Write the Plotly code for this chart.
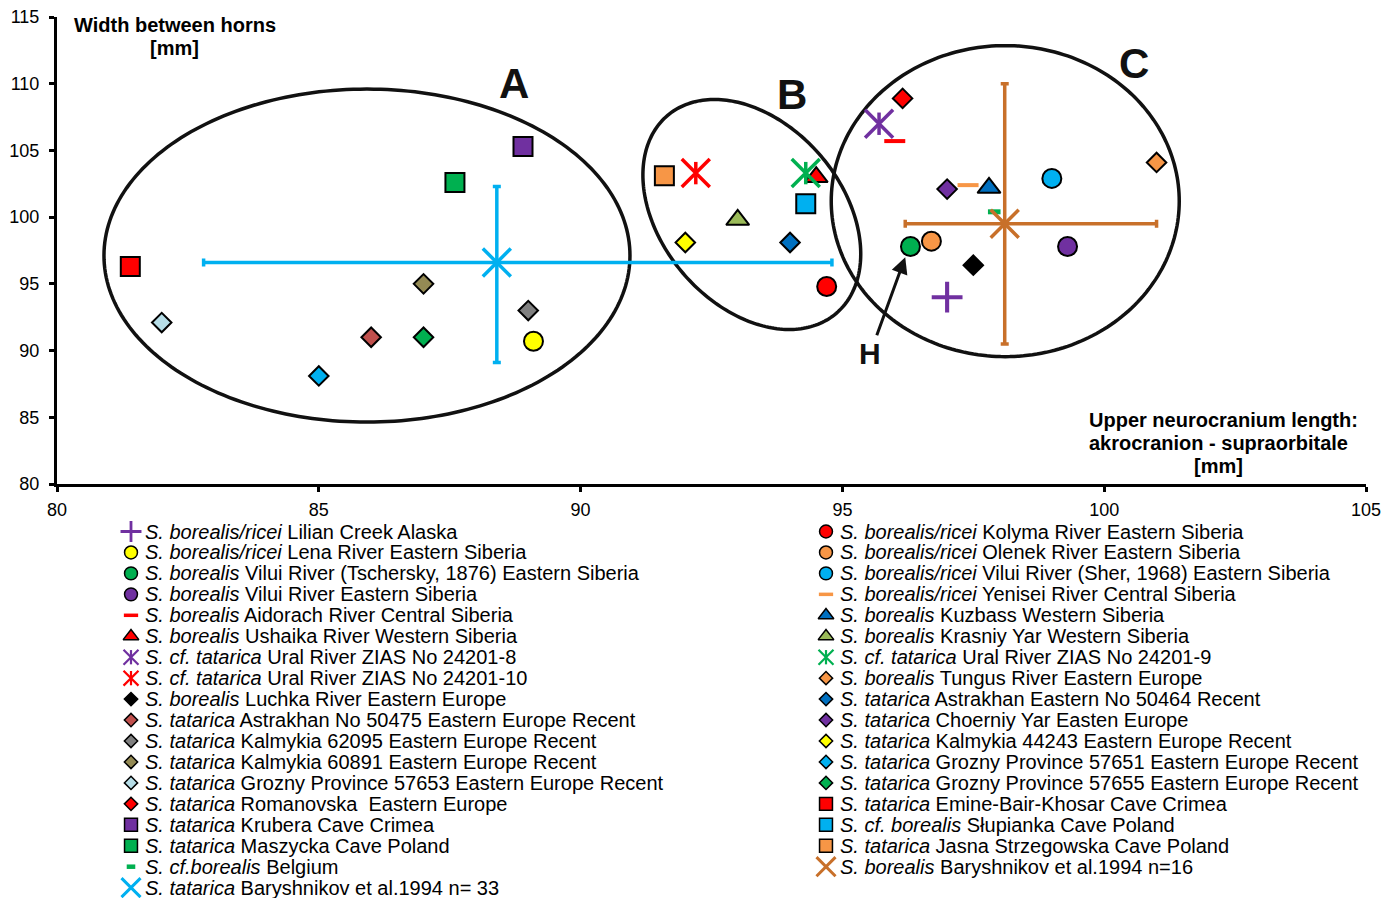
import numpy as np
import plotly.graph_objects as go

FONT = "Liberation Sans, Arial, sans-serif"

# ---------------------------------------------------------------------------
# Individual specimens / samples (legend order: left column, then right column)
# ---------------------------------------------------------------------------
taxon = [
    # left column
    "S. borealis/ricei", "S. borealis/ricei", "S. borealis", "S. borealis",
    "S. borealis", "S. borealis", "S. cf. tatarica", "S. cf. tatarica",
    "S. borealis", "S. tatarica", "S. tatarica", "S. tatarica",
    "S. tatarica", "S. tatarica", "S. tatarica", "S. tatarica",
    "S. cf.borealis",
    # right column
    "S. borealis/ricei", "S. borealis/ricei", "S. borealis/ricei", "S. borealis/ricei",
    "S. borealis", "S. borealis", "S. cf. tatarica", "S. borealis",
    "S. tatarica", "S. tatarica", "S. tatarica", "S. tatarica",
    "S. tatarica", "S. tatarica", "S. cf. borealis", "S. tatarica",
]
locality = [
    "Lilian Creek Alaska",
    "Lena River Eastern Siberia",
    "Vilui River (Tschersky, 1876) Eastern Siberia",
    "Vilui River Eastern Siberia",
    "Aidorach River Central Siberia",
    "Ushaika River Western Siberia",
    "Ural River ZIAS No 24201-8",
    "Ural River ZIAS No 24201-10",
    "Luchka River Eastern Europe",
    "Astrakhan No 50475 Eastern Europe Recent",
    "Kalmykia 62095 Eastern Europe Recent",
    "Kalmykia 60891 Eastern Europe Recent",
    "Grozny Province 57653 Eastern Europe Recent",
    "Romanovska  Eastern Europe",
    "Krubera Cave Crimea",
    "Maszycka Cave Poland",
    "Belgium",
    "Kolyma River Eastern Siberia",
    "Olenek River Eastern Siberia",
    "Vilui River (Sher, 1968) Eastern Siberia",
    "Yenisei River Central Siberia",
    "Kuzbass Western Siberia",
    "Krasniy Yar Western Siberia",
    "Ural River ZIAS No 24201-9",
    "Tungus River Eastern Europe",
    "Astrakhan Eastern No 50464 Recent",
    "Choerniy Yar Easten Europe",
    "Kalmykia 44243 Eastern Europe Recent",
    "Grozny Province 57651 Eastern Europe Recent",
    "Grozny Province 57655 Eastern Europe Recent",
    "Emine-Bair-Khosar Cave Crimea",
    "Słupianka Cave Poland",
    "Jasna Strzegowska Cave Poland",
]
# upper neurocranium length (akrocranion - supraorbitale), mm
length_mm = [
    97.0, 89.1, 96.3, 99.3, 96.0, 94.5, 95.7, 92.2, 97.5, 86.0, 89.0, 87.0,
    82.0, 96.15, 88.9, 87.6, 97.9,
    94.7, 96.7, 99.0, 97.4, 97.8, 93.0, 94.3, 101.0, 94.0, 97.0, 92.0, 85.0,
    87.0, 81.4, 94.3, 91.6,
]
# width between horns, mm
width_mm = [
    94.0, 90.7, 97.8, 97.8, 105.7, 103.0, 107.0, 103.3, 96.4, 91.0, 93.0, 95.0,
    92.1, 108.9, 105.3, 102.6, 100.4,
    94.8, 98.2, 102.9, 102.4, 102.2, 99.8, 103.3, 104.1, 98.1, 102.1, 98.1, 88.1,
    91.0, 96.3, 101.0, 103.1,
]
N_LEFT = 17  # individual series listed in the left legend column

# Baryshnikov et al. 1994 sample means with their ranges
mean_taxon = ["S. tatarica", "S. borealis"]
mean_locality = ["Baryshnikov et al.1994 n= 33", "Baryshnikov et al.1994 n=16"]
mean_length = [88.4, 98.1]
mean_width = [96.6, 99.5]
length_min = [82.8, 96.2]
length_max = [94.8, 101.0]
width_min = [89.1, 90.5]
width_max = [102.3, 110.0]

# ---------------------------------------------------------------------------
# Styles
# ---------------------------------------------------------------------------
PURPLE, YELLOW, GREEN, RED = "#7030A0", "#FFFF00", "#00B050", "#FF0000"
ORANGE, CYAN, BLUE, OLIVE = "#F79646", "#00B0F0", "#0070C0", "#9BBB59"
BRICK, GREY, KHAKI, ICE = "#C0504D", "#808080", "#948A54", "#B7DEE8"
MEAN_COLORS = [CYAN, "#C8702A"]

series_style = [
    ("cross", PURPLE), ("circle", YELLOW), ("circle", GREEN), ("circle", PURPLE),
    ("dash", RED), ("triangle", RED), ("asterisk", PURPLE), ("asterisk", RED),
    ("diamond", "#000000"), ("diamond", BRICK), ("diamond", GREY), ("diamond", KHAKI),
    ("diamond", ICE), ("diamond", RED), ("square", PURPLE), ("square", GREEN),
    ("smalldash", GREEN),
    ("circle", RED), ("circle", ORANGE), ("circle", CYAN), ("dash", ORANGE),
    ("triangle", BLUE), ("triangle", OLIVE), ("asterisk", GREEN), ("diamond", ORANGE),
    ("diamond", BLUE), ("diamond", PURPLE), ("diamond", YELLOW), ("diamond", CYAN),
    ("diamond", GREEN), ("square", RED), ("square", CYAN), ("square", ORANGE),
]


def marker_layers(kind, color, scale=1.0):
    """Marker dicts (drawn on top of each other) for one symbol kind."""
    small = scale < 1
    outline = dict(color="#000000", width=1.5 if small else 2)
    stroke = 2.2 if small else 3.5
    if kind == "circle":
        return [dict(symbol="circle", size=19 * scale, color=color, line=outline)]
    if kind == "square":
        return [dict(symbol="square", size=19 * scale, color=color, line=outline)]
    if kind == "triangle":
        return [dict(symbol="triangle-up", size=20 * scale, color=color, line=outline)]
    if kind == "diamond":
        return [dict(symbol="diamond", size=15 * scale, color=color, line=outline)]
    if kind == "cross":
        return [dict(symbol="cross-thin-open", size=22 * scale, color=color,
                     line=dict(color=color, width=stroke + 0.6))]
    if kind == "dash":
        return [dict(symbol="line-ew-open", size=15 * scale, color=color,
                     line=dict(color=color, width=3.5 if small else 4))]
    if kind == "smalldash":
        return [dict(symbol="line-ew-open", size=9 * scale, color=color,
                     line=dict(color=color, width=4.5 if small else 5))]
    if kind == "asterisk":
        return [dict(symbol="x-thin-open", size=(22 if small else 28) * scale,
                     color=color, line=dict(color=color, width=stroke)),
                dict(symbol="line-ns-open", size=(15 if small else 16) * scale,
                     color=color, line=dict(color=color, width=stroke))]
    if kind == "x":
        return [dict(symbol="x-thin-open", size=28 * scale, color=color,
                     line=dict(color=color, width=3 if small else 3.5))]
    raise ValueError(kind)


# ---------------------------------------------------------------------------
# Page geometry (pixels)
# ---------------------------------------------------------------------------
W, H = 1398, 898
PLOT_L, PLOT_R, PLOT_T, PLOT_B = 57, 1366, 17, 484
X_RANGE = (80, 105)
Y_RANGE = (80, 115)
PX_X = (PLOT_R - PLOT_L) / (X_RANGE[1] - X_RANGE[0])
PX_Y = (PLOT_B - PLOT_T) / (Y_RANGE[1] - Y_RANGE[0])

LEG_TOP = 498                     # top of the legend canvas
ROW0, ROW_H = 531.5, 20.95        # first legend row centre, row pitch
COL_MARK = [131, 826]             # legend marker x per column
COL_TEXT = [143, 838]             # legend text x per column

fig = go.Figure()

# ---------------------------------------------------------------------------
# Scatter series
# ---------------------------------------------------------------------------
legend_rows = []  # (column, row, kind, color, text)
for i, (tx, loc, xv, yv) in enumerate(zip(taxon, locality, length_mm, width_mm)):
    kind, color = series_style[i]
    name = f"<i>{tx}</i> {loc}"
    for layer in marker_layers(kind, color):
        fig.add_trace(go.Scatter(
            x=[xv], y=[yv], mode="markers", marker=layer, name=name,
            showlegend=False, xaxis="x", yaxis="y", cliponaxis=False,
        ))
    col = 0 if i < N_LEFT else 1
    row = i if i < N_LEFT else i - N_LEFT
    legend_rows.append((col, row, kind, color, name))

for k in range(len(mean_taxon)):
    color = MEAN_COLORS[k]
    name = f"<i>{mean_taxon[k]}</i> {mean_locality[k]}"
    fig.add_trace(go.Scatter(
        x=[mean_length[k]], y=[mean_width[k]], mode="markers", name=name,
        marker=marker_layers("x", color)[0], showlegend=False,
        error_x=dict(type="data", symmetric=False,
                     array=[length_max[k] - mean_length[k]],
                     arrayminus=[mean_length[k] - length_min[k]],
                     color=color, thickness=3.5, width=4),
        error_y=dict(type="data", symmetric=False,
                     array=[width_max[k] - mean_width[k]],
                     arrayminus=[mean_width[k] - width_min[k]],
                     color=color, thickness=3.5, width=4),
        xaxis="x", yaxis="y",
    ))
    col = k
    row = N_LEFT if k == 0 else len(taxon) - N_LEFT
    legend_rows.append((col, row, "x", color, name))

# ---------------------------------------------------------------------------
# Hand-made legend on a pixel canvas below the plot
# ---------------------------------------------------------------------------
annotations = []
for col, row, kind, color, text in legend_rows:
    y_px = ROW0 + row * ROW_H
    for layer in marker_layers(kind, color, scale=0.68):
        fig.add_trace(go.Scatter(
            x=[COL_MARK[col]], y=[y_px], mode="markers", marker=layer,
            showlegend=False, hoverinfo="skip", xaxis="x2", yaxis="y2",
            cliponaxis=False,
        ))
    annotations.append(dict(
        x=COL_TEXT[col], y=y_px, xref="x2", yref="y2", text=text,
        showarrow=False, xanchor="left", yanchor="middle",
        font=dict(family=FONT, size=20, color="#000000"),
    ))


# ---------------------------------------------------------------------------
# Group ellipses
# ---------------------------------------------------------------------------
def ellipse_path(cx, cy, a_px, b_px, tilt_deg):
    """Closed SVG path in data units; semi-axes in screen pixels, tilt clockwise."""
    t = np.linspace(0, 2 * np.pi, 241)
    th = np.radians(tilt_deg)
    dx = a_px * np.cos(t) * np.cos(th) - b_px * np.sin(t) * np.sin(th)
    dy = a_px * np.cos(t) * np.sin(th) + b_px * np.sin(t) * np.cos(th)
    xs = cx + dx / PX_X
    ys = cy - dy / PX_Y
    return "M " + " L ".join(f"{x:.4f},{y:.4f}" for x, y in zip(xs, ys)) + " Z"


groups = {
    "A": dict(cx=85.92, cy=97.12, a=263, b=166.5, tilt=0, lx=88.73, ly=110.0),
    "B": dict(cx=93.27, cy=100.2, a=130, b=90.5, tilt=49.5, lx=94.03, ly=109.2),
    "C": dict(cx=98.11, cy=101.2, a=174, b=155.5, tilt=0, lx=100.57, ly=111.55),
}
shapes = []
for label, g in groups.items():
    shapes.append(dict(
        type="path", xref="x", yref="y",
        path=ellipse_path(g["cx"], g["cy"], g["a"], g["b"], g["tilt"]),
        line=dict(color="#111111", width=3.5), fillcolor="rgba(0,0,0,0)",
        layer="below",
    ))
    annotations.append(dict(
        x=g["lx"], y=g["ly"], xref="x", yref="y", text=f"<b>{label}</b>",
        showarrow=False, font=dict(family=FONT, size=42, color="#111111"),
    ))

# Pointer to specimen H
annotations.append(dict(
    x=96.2, y=97.0, xref="x", yref="y", text="<b>H</b>",
    showarrow=True, ax=-35, ay=96, arrowhead=2, arrowsize=1.1,
    arrowwidth=3, arrowcolor="#111111",
    font=dict(family=FONT, size=30, color="#111111"),
))

# Axis titles
for txt, xp, yp in [("Width between horns", 175, 25), ("[mm]", 174, 48),
                    ("Upper neurocranium length:", 1223, 420),
                    ("akrocranion - supraorbitale", 1218, 443),
                    ("[mm]", 1218, 466)]:
    annotations.append(dict(
        x=xp / W, y=1 - yp / H, xref="paper", yref="paper", text=f"<b>{txt}</b>",
        showarrow=False, xanchor="center", yanchor="middle",
        font=dict(family=FONT, size=20, color="#000000"),
    ))

axis_common = dict(
    showgrid=False, zeroline=False, showline=True, linecolor="#000000",
    linewidth=3, ticks="outside", ticklen=5, tickwidth=2.5, tickcolor="#000000",
    tickfont=dict(family=FONT, size=18, color="#000000"),
    automargin=False,
)

fig.update_layout(
    width=W, height=H, autosize=False,
    margin=dict(l=0, r=0, t=0, b=0, autoexpand=False),
    paper_bgcolor="#FFFFFF", plot_bgcolor="rgba(0,0,0,0)",
    showlegend=False,
    xaxis=dict(domain=[PLOT_L / W, PLOT_R / W], range=list(X_RANGE),
               tickvals=[80, 85, 90, 95, 100, 105], anchor="y",
               ticklabelstandoff=2, **axis_common),
    yaxis=dict(domain=[1 - PLOT_B / H, 1 - PLOT_T / H], range=list(Y_RANGE),
               tickvals=list(range(80, 116, 5)), anchor="x",
               ticklabelstandoff=6, **axis_common),
    xaxis2=dict(domain=[0, 1], range=[0, W], visible=False, anchor="y2"),
    yaxis2=dict(domain=[0, 1 - LEG_TOP / H], range=[H, LEG_TOP], visible=False,
                anchor="x2"),
    shapes=shapes,
    annotations=annotations,
    font=dict(family=FONT, color="#000000"),
)

fig.write_html("out.html")
